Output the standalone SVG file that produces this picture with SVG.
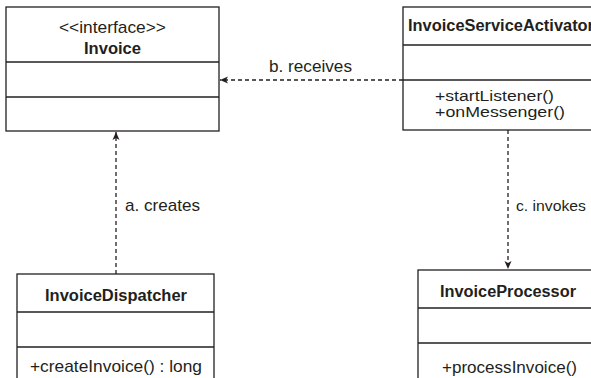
<svg xmlns="http://www.w3.org/2000/svg" width="591" height="378" viewBox="0 0 591 378">
<style>
.box{fill:#fff;stroke:#231f20;stroke-width:1.3}
.sep{stroke:#231f20;stroke-width:1.3}
.t{font-family:"Liberation Sans Narrow","Liberation Sans",Arial,sans-serif;font-size:17px;fill:#231f20}
.b{font-weight:bold;font-size:16px}
.m{font-size:15.5px}
.conn{stroke:#231f20;stroke-width:1.3;stroke-dasharray:4 3;fill:none}
</style>
<defs>
<marker id="arr" markerUnits="userSpaceOnUse" markerWidth="10" markerHeight="10" viewBox="0 0 10 10" refX="9" refY="5" orient="auto">
<path d="M1,1.5 L9,5 L1,8.5 L3,5 Z" fill="#231f20"/>
</marker>
</defs>
<rect width="591" height="378" fill="#fff"/>
<g id="connectors">
<line class="conn" x1="116" y1="274" x2="116" y2="132" marker-end="url(#arr)"/>
<line class="conn" x1="403" y1="80" x2="220" y2="80" marker-end="url(#arr)"/>
<line class="conn" x1="508" y1="130" x2="508" y2="269" marker-end="url(#arr)"/>
<text class="t" x="125" y="210.5" textLength="75" lengthAdjust="spacingAndGlyphs">a. creates</text>
<text class="t" x="269" y="72" textLength="83" lengthAdjust="spacingAndGlyphs">b. receives</text>
<text class="t m" x="516" y="211" textLength="70" lengthAdjust="spacingAndGlyphs">c. invokes</text>
</g>
<g id="invoice">
<rect class="box" x="6" y="7" width="213" height="124"/>
<line class="sep" x1="6" y1="62" x2="219" y2="62"/>
<line class="sep" x1="6" y1="97" x2="219" y2="97"/>
<text class="t" x="59" y="33" textLength="107" lengthAdjust="spacingAndGlyphs">&lt;&lt;interface&gt;&gt;</text>
<text class="t b" x="84" y="54" textLength="57" lengthAdjust="spacingAndGlyphs">Invoice</text>
</g>
<g id="activator">
<rect class="box" x="403" y="7" width="200" height="123"/>
<line class="sep" x1="403" y1="45" x2="603" y2="45"/>
<line class="sep" x1="403" y1="80" x2="603" y2="80"/>
<text class="t b" x="408" y="31" textLength="186" lengthAdjust="spacingAndGlyphs">InvoiceServiceActivator</text>
<text class="t m" x="435" y="101" textLength="119" lengthAdjust="spacingAndGlyphs">+startListener()</text>
<text class="t m" x="435" y="117" textLength="130" lengthAdjust="spacingAndGlyphs">+onMessenger()</text>
</g>
<g id="dispatcher">
<rect class="box" x="17" y="274" width="197" height="115"/>
<line class="sep" x1="17" y1="312" x2="214" y2="312"/>
<line class="sep" x1="17" y1="347" x2="214" y2="347"/>
<text class="t b" x="45" y="300.5" textLength="142" lengthAdjust="spacingAndGlyphs">InvoiceDispatcher</text>
<text class="t" x="30" y="372" textLength="172" lengthAdjust="spacingAndGlyphs">+createInvoice() : long</text>
</g>
<g id="processor">
<rect class="box" x="418" y="270" width="190" height="118"/>
<line class="sep" x1="418" y1="308" x2="608" y2="308"/>
<line class="sep" x1="418" y1="343" x2="608" y2="343"/>
<text class="t b" x="440" y="297" textLength="136" lengthAdjust="spacingAndGlyphs">InvoiceProcessor</text>
<text class="t" x="442" y="373" textLength="135" lengthAdjust="spacingAndGlyphs">+processInvoice()</text>
</g>
</svg>
